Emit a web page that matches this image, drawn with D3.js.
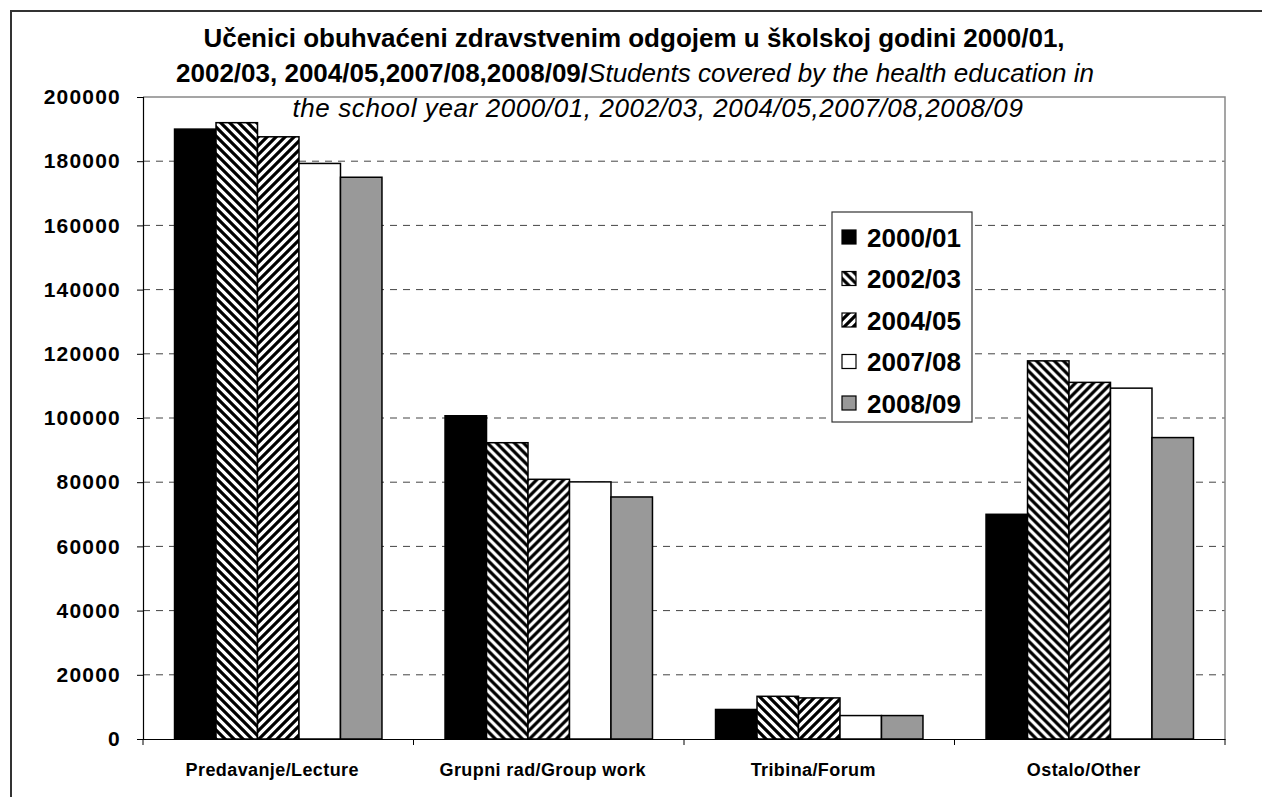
<!DOCTYPE html>
<html>
<head>
<meta charset="utf-8">
<script src="https://cdn.jsdelivr.net/npm/d3@7"></script>
<style>
  body { margin: 0; background: #fff; }
  svg text { font-family: "Liberation Sans", Arial, sans-serif; }
</style>
</head>
<body>
<div id="chart"></div>
<script>
// Chart data
const categories = ["Predavanje/Lecture", "Grupni rad/Group work", "Tribina/Forum", "Ostalo/Other"];
const seriesNames = ["2000/01", "2002/03", "2004/05", "2007/08", "2008/09"];
const values2000 = [190000, 100700, 9200, 70000];
const values2002 = [192000, 92300, 13300, 117800];
const values2004 = [187600, 80900, 12800, 111100];
const values2007 = [179300, 80100, 7300, 109300];
const values2008 = [175000, 75400, 7300, 93900];
const yTicks = [0, 20000, 40000, 60000, 80000, 100000, 120000, 140000, 160000, 180000, 200000];

const seriesValues = [values2000, values2002, values2004, values2007, values2008];
const fills = ["#000", "url(#hatchDown)", "url(#hatchUp)", "#fff", "#999"];

const W = 1262, H = 797;
const plot = { left: 143, right: 1225, top: 97, bottom: 739 };

const svg = d3.select("#chart").append("svg")
  .attr("width", W)
  .attr("height", H);

// Hatch patterns
const defs = svg.append("defs");
function hatch(id, down) {
  const s = 9;
  const p = defs.append("pattern")
    .attr("id", id)
    .attr("patternUnits", "userSpaceOnUse")
    .attr("width", s)
    .attr("height", s);
  p.append("rect").attr("width", s).attr("height", s).attr("fill", "#fff");
  const d = down
    ? `M0,0 L${s},${s} M${-s / 2},${s / 2} L${s / 2},${s * 1.5} M${s / 2},${-s / 2} L${s * 1.5},${s / 2}`
    : `M0,${s} L${s},0 M${-s / 2},${s / 2} L${s / 2},${-s / 2} M${s / 2},${s * 1.5} L${s * 1.5},${s / 2}`;
  p.append("path").attr("d", d).attr("stroke", "#000").attr("stroke-width", 3.2);
}
hatch("hatchDown", true);
hatch("hatchUp", false);

// Outer chart border
svg.append("rect")
  .attr("x", 11).attr("y", 11)
  .attr("width", W + 20).attr("height", H + 20)
  .attr("fill", "none")
  .attr("stroke", "#333")
  .attr("stroke-width", 2);

// Scales
const x0 = d3.scaleBand()
  .domain(categories)
  .range([plot.left, plot.right]);

const x1 = d3.scaleBand()
  .domain(seriesNames)
  .range([0, x0.bandwidth()])
  .paddingOuter(0.76);

const y = d3.scaleLinear()
  .domain([0, 200000])
  .range([plot.bottom, plot.top]);

// Gridlines
svg.append("g")
  .selectAll("line")
  .data(yTicks.filter(d => d > 0 && d < 200000))
  .enter().append("line")
  .attr("x1", plot.left).attr("x2", plot.right)
  .attr("y1", d => y(d)).attr("y2", d => y(d))
  .attr("stroke", "#444")
  .attr("stroke-width", 1)
  .attr("stroke-dasharray", "7,6");

// Plot area border (top and right)
svg.append("path")
  .attr("d", `M${plot.left},${plot.top} H${plot.right} V${plot.bottom}`)
  .attr("fill", "none")
  .attr("stroke", "#888")
  .attr("stroke-width", 1.5);

// Bars
const groups = svg.append("g")
  .selectAll("g")
  .data(categories)
  .enter().append("g")
  .attr("transform", d => `translate(${x0(d)},0)`);

groups.selectAll("rect")
  .data((c, ci) => seriesNames.map((s, si) => ({ s, si, v: seriesValues[si][ci] })))
  .enter().append("rect")
  .attr("x", d => x1(d.s))
  .attr("y", d => y(d.v))
  .attr("width", x1.bandwidth())
  .attr("height", d => y(0) - y(d.v))
  .attr("fill", d => fills[d.si])
  .attr("stroke", "#000")
  .attr("stroke-width", 1.5);

// Y axis
const yAxis = svg.append("g")
  .attr("transform", `translate(${plot.left},0)`)
  .call(d3.axisLeft(y).tickValues(yTicks).tickFormat(d3.format("d")).tickSize(6).tickPadding(16));
yAxis.select(".domain").attr("stroke", "#000").attr("stroke-width", 1.2);
yAxis.selectAll(".tick line").attr("stroke", "#000");
yAxis.selectAll("text")
  .attr("font-size", 21)
  .attr("font-weight", "bold")
  .attr("letter-spacing", 1.2)
  .attr("fill", "#000");

// X axis
const xAxis = svg.append("g")
  .attr("transform", `translate(0,${plot.bottom})`)
  .call(d3.axisBottom(x0).tickSize(0).tickPadding(24));
xAxis.select(".domain").attr("stroke", "#000").attr("stroke-width", 1.2);
xAxis.selectAll("text")
  .attr("font-size", 18)
  .attr("font-weight", "bold")
  .attr("letter-spacing", 0.4)
  .attr("fill", "#000")
  .attr("dx", -6);

// Tick marks between categories
xAxis.selectAll(".sep")
  .data(categories.concat(["end"]))
  .enter().append("line")
  .attr("x1", (d, i) => i < categories.length ? x0(d) : plot.right)
  .attr("x2", (d, i) => i < categories.length ? x0(d) : plot.right)
  .attr("y1", 0).attr("y2", 6)
  .attr("stroke", "#000");

// Title
const title = svg.append("text")
  .attr("text-anchor", "middle")
  .attr("font-size", 26)
  .attr("fill", "#000");
title.append("tspan")
  .attr("x", 634).attr("y", 47)
  .attr("font-weight", "bold")
  .text("Učenici obuhvaćeni zdravstvenim odgojem u školskoj godini 2000/01,");
const line2 = title.append("tspan").attr("x", 635).attr("y", 82);
line2.append("tspan").attr("font-weight", "bold").text("2002/03, 2004/05,2007/08,2008/09/");
line2.append("tspan").attr("font-style", "italic").text("Students covered by the health education in");
title.append("tspan")
  .attr("x", 658).attr("y", 117)
  .attr("font-style", "italic")
  .attr("letter-spacing", 0.6)
  .text("the school year 2000/01, 2002/03, 2004/05,2007/08,2008/09");

// Legend
const legend = svg.append("g").attr("transform", "translate(832,212)");
legend.append("rect")
  .attr("width", 140).attr("height", 210)
  .attr("fill", "#fff")
  .attr("stroke", "#333")
  .attr("stroke-width", 1.2);

const items = legend.selectAll(".item")
  .data(seriesNames)
  .enter().append("g")
  .attr("transform", (d, i) => `translate(10,${25 + i * 41.5})`);
items.append("rect")
  .attr("x", 0).attr("y", -7)
  .attr("width", 14).attr("height", 14)
  .attr("fill", (d, i) => fills[i])
  .attr("stroke", "#000")
  .attr("stroke-width", 1.2);
items.append("text")
  .attr("x", 25).attr("y", 9.5)
  .attr("font-size", 26)
  .attr("font-weight", "bold")
  .attr("fill", "#000")
  .text(d => d);
</script>
</body>
</html>
